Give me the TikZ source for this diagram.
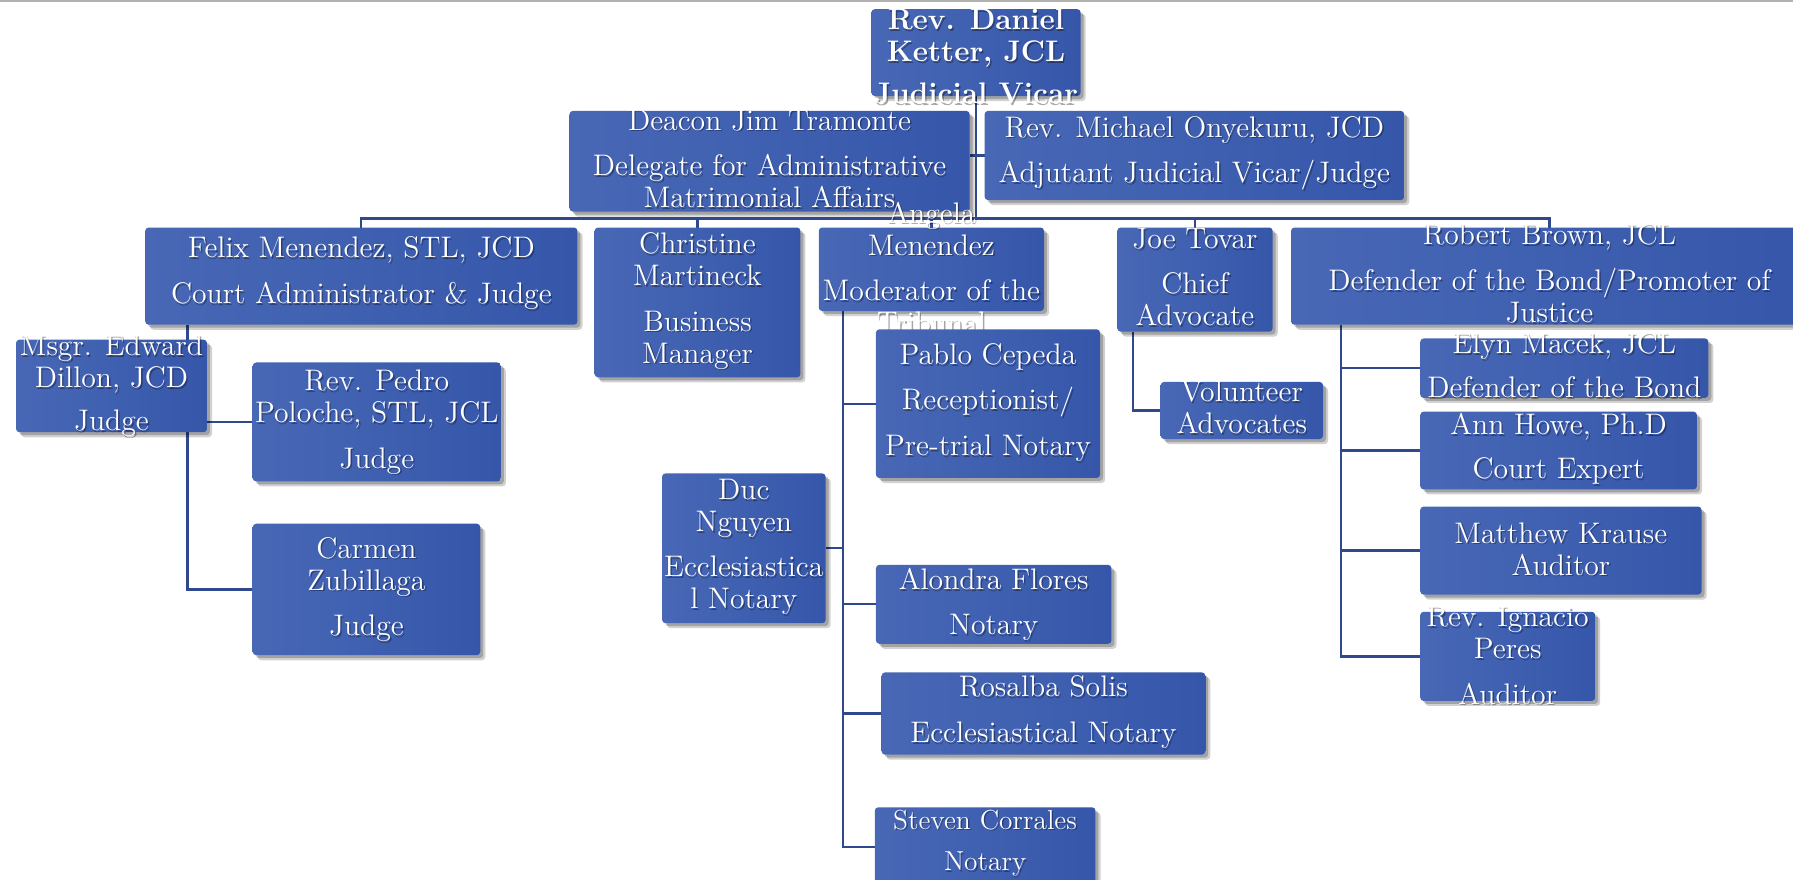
\documentclass[tikz,border=0pt]{standalone}
\usetikzlibrary{shadows,calc}
\definecolor{boxl}{RGB}{72,104,182}
\definecolor{boxr}{RGB}{54,86,170}
\definecolor{lineblue}{RGB}{47,72,142}
\pgfdeclarelayer{background}
\pgfsetlayers{background,main}
\tikzset{
  box/.style={rectangle, rounded corners=1.5pt, inner sep=0pt, outer sep=0pt,
    left color=boxl, right color=boxr,
    general shadow={fill=black, opacity=0.18, shadow xshift=2.2pt, shadow yshift=-2.2pt},
    general shadow={fill=black, opacity=0.22, shadow xshift=1.3pt, shadow yshift=-1.3pt}},
  txt/.style={text=white, align=center, inner sep=0pt, font=\fontsize{13}{14}\selectfont},
  txtsh/.style={txt, text=black, text opacity=0.35},
  conn/.style={draw=lineblue, line width=1pt},
}
% #1 text options, #2 name, #3 left, #4 top, #5 right, #6 bottom, #7 text
\newcommand\orgbox[7][]{%
  \node[box, minimum width={(#5-#3)*0.5pt}, minimum height={(#6-#4)*0.5pt}] (#2) at ({(#3+#5)/2},{(#4+#6)/2}) {};
  \node[txtsh,#1] at ([shift={(0.6pt,-0.8pt)}]#2.center) {#7};
  \node[txt,#1] (#2-t) at (#2.center) {#7};
}
\begin{document}
\begin{tikzpicture}[x=0.5pt,y=-0.5pt]
\useasboundingbox (0,0) rectangle (1568,769);
\clip (0,0) rectangle (1568,769);
\begin{pgfonlayer}{background}
\fill[white] (0,0) rectangle (1568,769);
\draw[black!30, line width=0.8pt] (0,1) -- (1568,1);
\end{pgfonlayer}

\orgbox[font={\fontsize{13}{14}\selectfont\bfseries}, yshift=-1.75pt]{ketter}{762}{8}{945}{84}{Rev. Daniel\\ Ketter, JCL\\[4.5pt] Judicial Vicar}
\orgbox[yshift=1pt]{tramonte}{498}{97}{848}{185}{Deacon Jim Tramonte\\[6pt] Delegate for Administrative\\ Matrimonial Affairs}
\orgbox[yshift=1pt]{onyekuru}{861}{97}{1228}{175}{Rev. Michael Onyekuru, JCD\\[6pt] Adjutant Judicial Vicar/Judge}
\orgbox[yshift=1.25pt]{felix}{127}{199}{505}{284}{Felix Menendez, STL, JCD\\[6pt] Court Administrator \& Judge}
\orgbox[yshift=0.75pt]{christine}{520}{199}{700}{330}{Christine\\ Martineck\\[6pt] Business\\ Manager}
\orgbox[yshift=0.75pt]{angela}{716}{199}{913}{272}{Angela\\ Menendez\\[6pt] Moderator of the\\ Tribunal}
\orgbox[yshift=1pt]{tovar}{977}{199}{1113}{290}{Joe Tovar\\[5.5pt] Chief\\ Advocate}
\orgbox[yshift=1.25pt]{brown}{1129}{199}{1581}{284}{Robert Brown, JCL\\[6pt] Defender of the Bond/Promoter of\\ Justice}
\orgbox{dillon}{14}{297}{181}{378}{Msgr. Edward\\ Dillon, JCD\\[5pt] Judge}
\orgbox{poloche}{221}{317}{438}{421}{Rev. Pedro\\ Poloche, STL, JCL\\[6pt] Judge}
\orgbox{carmen}{221}{458}{420}{573}{Carmen\\ Zubillaga\\[6pt] Judge}
\orgbox[yshift=0.5pt]{pablo}{766}{288}{962}{418}{Pablo Cepeda\\[6pt] Receptionist/\\[6pt] Pre-trial Notary}
\orgbox[yshift=0.5pt]{duc}{579}{414}{722}{545}{Duc\\ Nguyen\\[5.5pt] Ecclesiastica\\ l Notary}
\orgbox{alondra}{766}{494}{972}{563}{Alondra Flores\\[5.5pt] Notary}
\orgbox[yshift=0.5pt]{rosalba}{771}{588}{1054}{660}{Rosalba Solis\\[6pt] Ecclesiastical Notary}
\orgbox[yshift=1.75pt, font=\fontsize{12}{13}\selectfont]{steven}{765}{706}{958}{775}{Steven Corrales\\[5pt] Notary}
\orgbox[yshift=1.25pt]{volunteer}{1015}{334}{1157}{384}{Volunteer\\ Advocates}
\orgbox[yshift=1.25pt]{elyn}{1242}{296}{1494}{348}{Elyn Macek, JCL\\[5.5pt] Defender of the Bond}
\orgbox[yshift=0.75pt]{ann}{1242}{360}{1484}{428}{Ann Howe, Ph.D\\[5.5pt] Court Expert}
\orgbox[yshift=0.75pt]{matthew}{1242}{443}{1488}{520}{Matthew Krause\\ Auditor}
\orgbox[yshift=0.5pt]{ignacio}{1242}{535}{1395}{613}{Rev. Ignacio\\ Peres\\[6pt] Auditor}

\begin{pgfonlayer}{background}
\coordinate (bus) at (ketter.south |- 0,191);
\draw[conn] (ketter.south) -- (bus);
\draw[conn] (tramonte.east |- onyekuru.west) -- (onyekuru.west);
\draw[conn] (felix.north) |- (bus) -| (brown.north);
\draw[conn] (christine.north) -- (christine.north |- bus);
\draw[conn] (angela.north) -- (angela.north |- bus);
\draw[conn] (tovar.north) -- (tovar.north |- bus);
% Felix subtree
\coordinate (ftr) at ([xshift=18.5pt]felix.south west);
\draw[conn] (ftr) |- (carmen.west);
\draw[conn] (ftr |- poloche.west) -- (poloche.west);
% Angela subtree
\coordinate (atr) at ([xshift=10.5pt]angela.south west);
\draw[conn] (atr) |- (steven.west);
\draw[conn] (atr |- pablo.west) -- (pablo.west);
\draw[conn] (duc.east) -- (atr |- duc.east);
\draw[conn] (atr |- alondra.west) -- (alondra.west);
\draw[conn] (atr |- rosalba.west) -- (rosalba.west);
% Tovar subtree
\coordinate (ttr) at ([xshift=7pt]tovar.south west);
\draw[conn] (ttr) |- (volunteer.west);
% Brown subtree
\coordinate (btr) at ([xshift=22pt]brown.south west);
\draw[conn] (btr) |- (ignacio.west);
\draw[conn] (btr |- elyn.west) -- (elyn.west);
\draw[conn] (btr |- ann.west) -- (ann.west);
\draw[conn] (btr |- matthew.west) -- (matthew.west);
\end{pgfonlayer}
\end{tikzpicture}
\end{document}
